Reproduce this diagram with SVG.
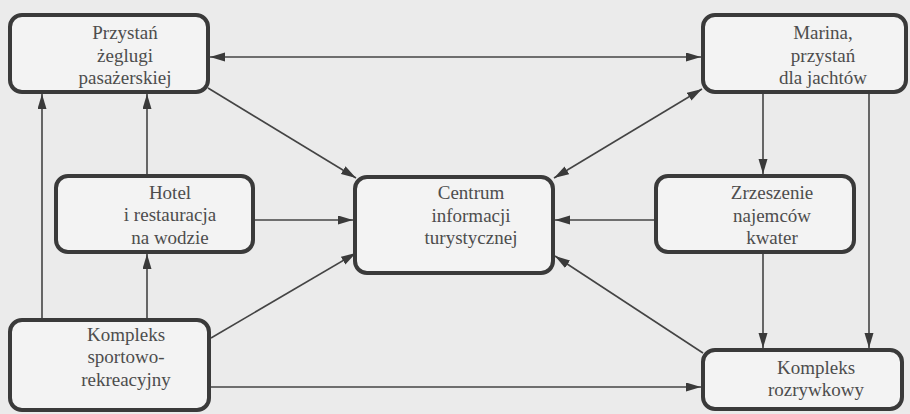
<svg xmlns="http://www.w3.org/2000/svg" width="910" height="414" viewBox="0 0 910 414">
  <style>
    .box { fill: #f3f3f3; stroke: #3a3a3a; stroke-width: 4; }
    .lbl { font-family: "Liberation Serif", "Times New Roman", serif; font-size: 19px; fill: #4d4d4d; text-anchor: middle; }
    .conn { stroke: #444; stroke-width: 1.6; fill: none; }
    .one { marker-end: url(#head); }
    .two { marker-start: url(#head); marker-end: url(#head); }
  </style>
  <defs>
    <marker id="head" markerUnits="userSpaceOnUse" markerWidth="16" markerHeight="10" refX="15" refY="4.5" orient="auto-start-reverse">
      <path d="M0,0 L15,4.5 L0,9 z" fill="#3a3a3a"/>
    </marker>
  </defs>

  <rect x="0" y="0" width="910" height="414" fill="#ebebeb"/>

  <!-- connectors -->
  <g id="connectors">
    <line class="conn two" x1="210" y1="57" x2="701" y2="57"/>
    <line class="conn one" x1="208" y1="88" x2="356" y2="178"/>
    <line class="conn two" x1="702" y1="89" x2="554" y2="178"/>
    <line class="conn one" x1="255" y1="220" x2="353" y2="220"/>
    <line class="conn one" x1="654" y1="220" x2="555" y2="220"/>
    <line class="conn one" x1="211" y1="338" x2="356" y2="253"/>
    <line class="conn one" x1="703" y1="353" x2="555" y2="256"/>
    <line class="conn one" x1="211" y1="387" x2="701" y2="387"/>
    <line class="conn one" x1="147" y1="318" x2="147" y2="254"/>
    <line class="conn one" x1="147" y1="174" x2="147" y2="94"/>
    <line class="conn one" x1="42" y1="318" x2="42" y2="94"/>
    <line class="conn one" x1="763" y1="94" x2="763" y2="174"/>
    <line class="conn one" x1="763" y1="254" x2="763" y2="348"/>
    <line class="conn one" x1="869" y1="94" x2="869" y2="348"/>
  </g>

  <g id="przystan">
    <rect class="box" x="10" y="15" width="198" height="77" rx="12"/>
    <text class="lbl" x="125" y="39">Przystań</text>
    <text class="lbl" x="125" y="62">żeglugi</text>
    <text class="lbl" x="125" y="84">pasażerskiej</text>
  </g>

  <g id="marina">
    <rect class="box" x="703" y="15" width="203" height="77" rx="12"/>
    <text class="lbl" x="823" y="39">Marina,</text>
    <text class="lbl" x="823" y="62">przystań</text>
    <text class="lbl" x="823" y="84">dla jachtów</text>
  </g>

  <g id="hotel">
    <rect class="box" x="56" y="176" width="197" height="76" rx="12"/>
    <text class="lbl" x="170" y="199">Hotel</text>
    <text class="lbl" x="170" y="221">i restauracja</text>
    <text class="lbl" x="170" y="244">na wodzie</text>
  </g>

  <g id="centrum">
    <rect class="box" x="355" y="177" width="198" height="96" rx="12"/>
    <text class="lbl" x="471" y="199">Centrum</text>
    <text class="lbl" x="471" y="222">informacji</text>
    <text class="lbl" x="471" y="244">turystycznej</text>
  </g>

  <g id="zrzeszenie">
    <rect class="box" x="656" y="176" width="198" height="76" rx="12"/>
    <text class="lbl" x="772" y="199">Zrzeszenie</text>
    <text class="lbl" x="772" y="222">najemców</text>
    <text class="lbl" x="772" y="244">kwater</text>
  </g>

  <g id="sportowy">
    <rect class="box" x="10" y="320" width="199" height="90" rx="12"/>
    <text class="lbl" x="126" y="341">Kompleks</text>
    <text class="lbl" x="126" y="363">sportowo-</text>
    <text class="lbl" x="126" y="386">rekreacyjny</text>
  </g>

  <g id="rozrywkowy">
    <rect class="box" x="703" y="350" width="199" height="59" rx="12"/>
    <text class="lbl" x="816" y="374">Kompleks</text>
    <text class="lbl" x="816" y="396">rozrywkowy</text>
  </g>
</svg>
